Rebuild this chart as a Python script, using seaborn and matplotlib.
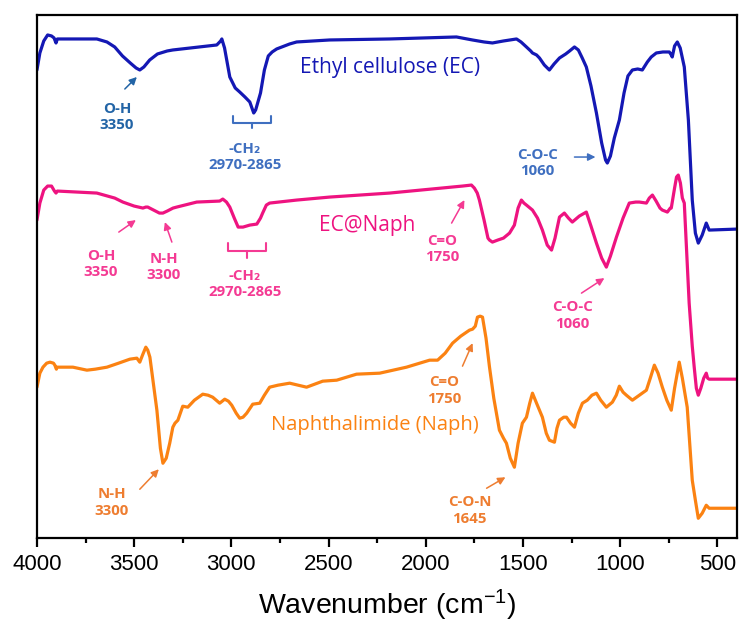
import numpy as np
import pandas as pd
import matplotlib
matplotlib.use("Agg")
import matplotlib.pyplot as plt
import seaborn as sns

# ------------------------------
# Spectra (wavenumber, offset transmittance)
# ------------------------------
ec_wn = [4000, 3985, 3965, 3945, 3925, 3912, 3902, 3895, 3692, 3640, 3600, 3560, 3520, 3490,
         3471, 3450, 3420, 3380, 3330, 3301, 3075, 3055, 3049, 3035, 3008, 2980, 2957, 2930,
         2905, 2885, 2875, 2850, 2830, 2810, 2790, 2767, 2700, 2664, 2494, 2186, 1842, 1760,
         1700, 1657, 1600, 1533, 1510, 1482, 1460, 1451, 1430, 1415, 1390, 1364, 1340, 1312,
         1280, 1260, 1235, 1215, 1195, 1174, 1150, 1122, 1095, 1075, 1066, 1050, 1030, 1004,
         980, 960, 937, 910, 886, 860, 840, 814, 780, 747, 737, 732, 720, 706, 691, 670, 649,
         629, 613, 598, 578, 557, 542, 400]
ec_t = [468, 485, 497, 503, 502, 500, 495, 499, 499, 496, 491, 482, 475, 470,
        468, 471, 478, 484, 487, 488, 493, 497, 499, 490, 461, 450, 446, 441,
        436, 425, 428, 445, 468, 482, 486, 489, 494, 496, 498, 499, 501, 498,
        496, 495, 497, 499, 496, 491, 487, 485, 483, 480, 473, 468, 474, 480,
        484, 487, 491, 488, 480, 471, 452, 425, 395, 378, 375, 382, 400, 418,
        445, 462, 468, 469, 468, 476, 481, 485, 486, 486, 483, 481, 492, 496, 490, 471, 418,
        338, 305, 295, 303, 315, 308, 309]

mix_wn = [4000, 3985, 3965, 3945, 3925, 3910, 3902, 3895, 3692, 3600, 3558, 3500, 3455, 3440,
          3430, 3400, 3370, 3352, 3330, 3300, 3281, 3178, 3060, 3044, 3025, 3008, 2985, 2965,
          2940, 2905, 2869, 2850, 2839, 2820, 2803, 2664, 2494, 2186, 1811, 1765, 1750, 1735,
          1724, 1700, 1680, 1672, 1657, 1630, 1600, 1569, 1544, 1525, 1508, 1495, 1482, 1451,
          1425, 1400, 1375, 1353, 1335, 1312, 1287, 1266, 1246, 1210, 1174, 1150, 1122, 1095,
          1071, 1050, 1019, 985, 953, 920, 901, 865, 850, 834, 815, 795, 783, 757, 742, 737,
          720, 710, 701, 690, 680, 670, 645, 629, 619, 608, 598, 585, 570, 557, 550, 542, 400]
mix_t = [318, 335, 348, 352, 352, 347, 345, 347, 345, 340, 336, 332, 330, 331,
         331, 328, 325, 325, 327, 330, 331, 336, 337, 339, 336, 331, 320, 311,
         311, 313, 314, 320, 325, 333, 335, 338, 341, 345, 352, 353, 350, 345,
         338, 318, 300, 298, 296, 298, 300, 305, 313, 330, 338, 335, 333, 328,
         320, 308, 293, 288, 300, 321, 325, 320, 316, 322, 326, 312, 295, 280,
         271, 282, 301, 320, 335, 336, 336, 335, 340, 343, 337, 330, 328, 326, 330, 330,
         350, 361, 363, 355, 340, 335, 235, 192, 171, 150, 143, 150, 160, 165, 160, 159, 159]

naph_wn = [4000, 3985, 3969, 3950, 3933, 3915, 3908, 3900, 3897, 3815, 3743, 3700, 3640, 3580,
           3522, 3486, 3471, 3455, 3440, 3430, 3419, 3400, 3383, 3365, 3352, 3335, 3317, 3301,
           3290, 3275, 3250, 3224, 3190, 3147, 3120, 3096, 3060, 3034, 3015, 2998, 2975, 2957,
           2940, 2921, 2890, 2854, 2830, 2803, 2760, 2700, 2613, 2530, 2458, 2356, 2237, 2099,
           1980, 1939, 1900, 1862, 1820, 1775, 1759, 1745, 1734, 1720, 1708, 1690, 1672, 1650,
           1621, 1600, 1585, 1565, 1544, 1525, 1503, 1482, 1465, 1451, 1430, 1400, 1380, 1364,
           1338, 1325, 1312, 1290, 1276, 1255, 1235, 1215, 1194, 1169, 1145, 1122, 1100, 1071,
           1040, 1020, 1004, 985, 968, 937, 901, 865, 845, 824, 805, 783, 760, 737, 720, 696,
           680, 655, 629, 613, 598, 578, 557, 542, 400]
naph_t = [151, 165, 171, 175, 176, 175, 173, 169, 171, 171, 168, 169, 171, 175,
          179, 180, 176, 184, 191, 188, 181, 153, 128, 90, 75, 80, 95, 111,
          115, 118, 132, 131, 138, 144, 143, 141, 135, 139, 137, 133, 125, 120,
          121, 125, 134, 135, 143, 151, 153, 155, 151, 157, 158, 164, 165, 171,
          178, 178, 185, 195, 202, 208, 209, 212, 221, 222, 221, 200, 171, 140,
          108, 100, 95, 80, 71, 95, 115, 121, 135, 145, 135, 121, 105, 98,
          96, 110, 118, 121, 121, 115, 111, 125, 135, 138, 143, 145, 138, 131,
          136, 143, 152, 146, 143, 138, 143, 148, 160, 173, 165, 151, 138, 128, 150, 176,
          160, 131, 58, 38, 20, 25, 33, 30, 30]

blue = "#1418b4"
pink = "#ee1380"
orange = "#fb8212"
blue_txt = "#3f6fc0"
blue_txt2 = "#2264a6"
pink_txt = "#f43a93"
orange_txt = "#ee7d30"

sns.set_style("ticks")
plt.rcParams["font.family"] = ["Liberation Sans", "DejaVu Sans"]
plt.rcParams["mathtext.default"] = "regular"
plt.rcParams["text.color"] = "black"
plt.rcParams["axes.labelcolor"] = "black"
plt.rcParams["xtick.color"] = "black"

fig = plt.figure(figsize=(7.39, 6.23), dpi=100)
ax = fig.add_axes([0.050, 0.136, 0.947, 0.840])

for wn, t, c in [(ec_wn, ec_t, blue), (mix_wn, mix_t, pink), (naph_wn, naph_t, orange)]:
    df = pd.DataFrame({"wn": wn, "t": t})
    sns.lineplot(data=df, x="wn", y="t", color=c, lw=2.3, ax=ax, sort=False)
for ln in ax.lines:
    ln.set_solid_joinstyle("round")
    ln.set_solid_capstyle("round")

ax.set_xlim(4000, 400)
ax.set_ylim(0, 523)
ax.set_xticks(np.arange(4000, 400, -500))
ax.set_xticks(np.arange(3750, 400, -500), minor=True)
ax.set_yticks([])
ax.set_ylabel("")
ax.set_xlabel("Wavenumber (cm$^{-1}$)", fontsize=20.5, labelpad=9, color="black")
ax.tick_params(axis="x", which="major", length=6.5, width=1.6, direction="out", labelsize=16,
               pad=5, colors="black")
ax.tick_params(axis="x", which="minor", length=3.6, width=1.6, direction="out", colors="black")
for s in ax.spines.values():
    s.set_linewidth(1.6)
    s.set_color("black")
    s.set_visible(True)

lab_font = ["Open Sans", "DejaVu Sans"]
ann_kw = dict(fontsize=10.8, fontweight="bold", family=lab_font, ha="center", va="center",
              linespacing=1.25)

def note(text, xy, xytext, col, arrow_from=None):
    ax.text(xytext[0], xytext[1], text, color=col, **ann_kw)
    if arrow_from is not None:
        ax.annotate("", xy=xy, xytext=arrow_from,
                    arrowprops=dict(arrowstyle="-|>", color=col, lw=1.1, mutation_scale=11,
                                    shrinkA=0, shrinkB=0))

def bracket(x1, x2, ytop, ybot, ytip, col):
    xm = (x1 + x2) / 2
    ax.plot([x1, x1, x2, x2], [ytop, ybot, ybot, ytop], color=col, lw=1.5)
    ax.plot([xm, xm], [ybot, ytip], color=col, lw=1.5)

# Ethyl cellulose
ax.text(2186, 470, "Ethyl cellulose (EC)", color=blue, fontsize=15, family=lab_font,
        ha="center", va="center")
note("O-H\n3350", (3486, 461), (3589, 421), blue_txt2, arrow_from=(3548, 449))
bracket(2993, 2798, 422, 415, 410, blue_txt)
note("-CH₂\n2970-2865", None, (2931, 381), blue_txt)
note("C-O-C\n1060", (1127, 381), (1425, 375), blue_txt, arrow_from=(1235, 381))

# EC@Naph
ax.text(2299, 313, "EC@Naph", color=pink, fontsize=15, family=lab_font,
        ha="center", va="center")
note("O-H\n3350", (3491, 318), (3671, 274), pink_txt, arrow_from=(3579, 306))
note("N-H\n3300", (3342, 316), (3347, 271), pink_txt, arrow_from=(3306, 296))
bracket(3018, 2823, 295, 287, 280, pink_txt)
note("-CH₂\n2970-2865", None, (2931, 254), pink_txt)
note("C=O\n1750", (1801, 338), (1914, 289), pink_txt, arrow_from=(1867, 315))
note("C-O-C\n1060", (1081, 260), (1245, 223), pink_txt, arrow_from=(1199, 245))

# Naphthalimide
ax.text(2263, 113, "Naphthalimide (Naph)", color=orange, fontsize=14.5, family=lab_font,
        ha="center", va="center")
note("N-H\n3300", (3373, 69), (3615, 36), orange_txt, arrow_from=(3471, 49))
note("C=O\n1750", (1759, 195), (1903, 148), orange_txt, arrow_from=(1811, 172))
note("C-O-N\n1645", (1590, 61), (1775, 28), orange_txt, arrow_from=(1687, 50))

fig.savefig("out.png", dpi=100)
